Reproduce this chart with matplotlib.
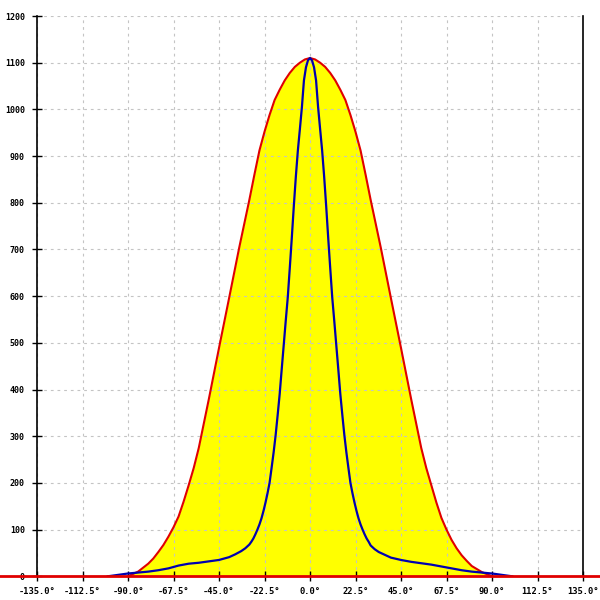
import matplotlib
matplotlib.use("Agg")
import matplotlib.pyplot as plt
import numpy as np

# wide distribution (red outline, yellow fill)
wide_angle = [-90, -85, -80, -77.5, -75, -72.5, -70, -67.5, -65, -62.5, -60,
              -57.5, -55, -50, -45, -40, -35, -30, -27.5, -25, -22.5, -20,
              -17.5, -15, -12.5, -10, -7.5, -5, -2.5, 0, 2.5, 5, 7.5, 10,
              12.5, 15, 17.5, 20, 22.5, 25, 27.5, 30, 35, 40, 45, 50, 55,
              57.5, 60, 62.5, 65, 67.5, 70, 72.5, 75, 77.5, 80, 85, 90]
wide_value = [0, 10, 27, 38, 52, 67, 85, 105, 128, 160, 195,
              232, 275, 380, 489, 596, 704, 806, 860, 912, 952, 988,
              1020, 1042, 1062, 1078, 1091, 1100, 1107, 1110, 1107, 1100, 1091,
              1078, 1062, 1042, 1020, 988, 952, 912, 860, 806, 704, 596, 489,
              380, 275, 232, 195, 158, 125, 100, 78, 60, 45, 33, 22, 9, 0]

# narrow distribution (blue)
narrow_angle = [-100, -95, -90, -85, -80, -75, -70, -65, -60, -55, -50, -45,
                -40, -37, -34, -32, -30, -29, -28, -27, -26, -25, -24, -23,
                -22, -21, -20, -19, -18, -17, -16, -15, -14, -13, -12, -11,
                -10, -9, -8, -7, -6, -5, -4, -3, -2, -1, 0, 1, 2, 3, 4, 5, 6,
                7, 8, 9, 10, 11, 12, 13, 14, 15, 16, 17, 18, 19, 20, 21, 22,
                23, 24, 25, 26, 27, 28, 29, 30, 32, 34, 37, 40, 45, 50, 55,
                60, 65, 70, 75, 80, 85, 90, 95, 100]
narrow_value = [0, 3, 6, 8, 10, 13, 17, 23, 27, 29, 32, 35,
                41, 47, 54, 60, 68, 74, 81, 90, 100, 111, 124, 140,
                158, 178, 200, 232, 265, 302, 345, 390, 443, 495, 547, 597,
                660, 725, 793, 856, 912, 958, 1005, 1062, 1090, 1105, 1110,
                1105, 1090, 1062, 1005, 958, 912, 856, 793, 725, 660, 597, 547,
                495, 443, 390, 345, 302, 265, 232, 200, 178, 158, 140, 124,
                111, 100, 90, 81, 74, 66, 58, 52, 46, 40, 35, 31, 28,
                25, 21, 17, 13, 10, 8, 6, 3, 0]

x_ticks = np.arange(-135, 135.1, 22.5)
y_ticks = np.arange(0, 1201, 100)


def main() -> None:
    fig = plt.figure(figsize=(6, 6), dpi=100)
    ax = fig.add_axes([37 / 600, 23.7 / 600, 546 / 600, 560.3 / 600])

    ax.fill_between(wide_angle, wide_value, 0, color="#ffff00", lw=0, zorder=1)
    ax.plot(wide_angle, wide_value, color="#e00000", lw=1.5, zorder=3)
    ax.plot(narrow_angle, narrow_value, color="#0000b0", lw=1.6, zorder=4)
    # red baseline running across the whole picture
    ax.plot([-170, 170], [0, 0], color="#e00000", lw=2, zorder=5, clip_on=False)

    ax.set_xlim(-135, 135)
    ax.set_ylim(0, 1200)
    ax.set_xticks(x_ticks)
    ax.set_xticklabels([f"{v:.1f}°" for v in x_ticks])
    ax.set_yticks(y_ticks)
    ax.set_yticklabels([f"{v:d}" for v in y_ticks])

    ax.grid(True, color="#c4c4c4", linestyle=(0, (2.5, 3.5)), lw=0.8)
    ax.tick_params(direction="inout", length=7.5, width=1, colors="black",
                   labelsize=6.3)
    ax.tick_params(axis="x", pad=4)
    ax.tick_params(axis="y", pad=5, labelsize=6)
    for lab in ax.get_xticklabels() + ax.get_yticklabels():
        lab.set_family("DejaVu Sans Mono")
        lab.set_fontweight("bold")

    ax.spines["top"].set_visible(False)
    ax.spines["bottom"].set_visible(False)
    ax.spines["left"].set_linewidth(1.2)
    ax.spines["right"].set_linewidth(1.2)

    fig.savefig("out.png", dpi=100)

    return None


if __name__ == "__main__":
    main()
